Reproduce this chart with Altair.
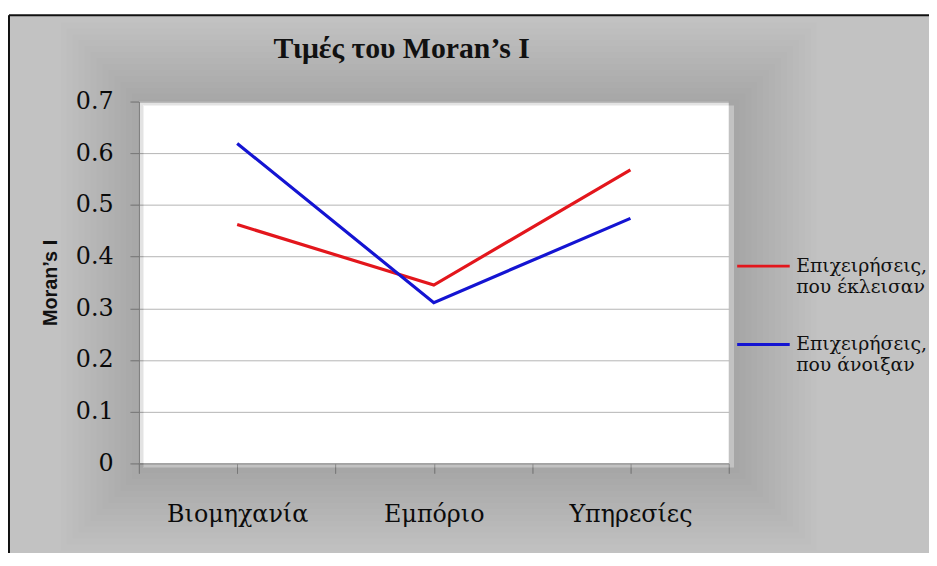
import altair as alt
import pandas as pd

categories = ["Βιομηχανία", "Εμπόριο", "Υπηρεσίες"]
series_names = ["Επιχειρήσεις,\nπου έκλεισαν", "Επιχειρήσεις,\nπου άνοιξαν"]
closed_values = [0.462, 0.345, 0.568]
opened_values = [0.619, 0.311, 0.474]
y_ticks = [0, 0.1, 0.2, 0.3, 0.4, 0.5, 0.6, 0.7]
colors = ["#e3161c", "#1414d2"]
title_text = "Τιμές του Moran’s I"
y_title = "Moran’s I"

rows = []
for name, vals in zip(series_names, [closed_values, opened_values]):
    for i, (c, v) in enumerate(zip(categories, vals)):
        rows.append({"category": c, "idx": i, "series": name, "value": v})
df = pd.DataFrame(rows)

W, H = 595, 365
SERIF = "Liberation Serif"
WIDE_SERIF = "DejaVu Serif"

label_expr = " : ".join(
    f"datum.value == {i} ? '{c}'" for i, c in enumerate(categories)
) + " : ''"

x_enc = alt.X(
    "idx:Q",
    scale=alt.Scale(domain=[-0.5, len(categories) - 0.5], nice=False, zero=False),
    axis=alt.Axis(
        values=[k / 2 for k in range(-1, 2 * len(categories))],
        labelExpr=label_expr,
        grid=False,
        title=None,
        tickSize=10,
        tickColor="#8a8a8a",
        domainColor="#8a8a8a",
        labelFont=WIDE_SERIF,
        labelFontSize=24,
        labelColor="#111111",
        labelPadding=30,
    ),
)

y_enc = alt.Y(
    "value:Q",
    scale=alt.Scale(domain=[0, 0.7], nice=False),
    axis=alt.Axis(
        values=y_ticks,
        format=".1~f",
        grid=True,
        gridColor="#b4b4b4",
        tickSize=9,
        tickColor="#8a8a8a",
        domainColor="#8a8a8a",
        labelFont=WIDE_SERIF,
        labelFontSize=24,
        labelColor="#111111",
        labelPadding=17,
        title=y_title,
        titleFont="Liberation Sans",
        titleFontWeight="bold",
        titleFontSize=20,
        titleColor="#111111",
        titlePadding=15,
    ),
)

lines = alt.Chart(df).mark_line(strokeWidth=3.2).encode(
    x=x_enc,
    y=y_enc,
    color=alt.Color(
        "series:N",
        scale=alt.Scale(domain=series_names, range=colors),
        legend=alt.Legend(
            title=None,
            orient="none",
            legendX=602,
            legendY=138,
            symbolType="stroke",
            symbolSize=2809,
            symbolStrokeWidth=3,
            labelFont=WIDE_SERIF,
            labelFontSize=19,
            labelColor="#111111",
            labelBaseline="middle",
            labelExpr="split(datum.label, '\\n')",
            labelOffset=5,
            rowPadding=20,
            labelLimit=300,
        ),
    ),
    detail="series:N",
)

one = pd.DataFrame({"k": [0]})

# soft shadow bands around the plot area (stroke-only frames)
shadows = []
for d in range(3, 45, 3):
    shadows.append(
        alt.Chart(one).mark_rect(
            filled=False, stroke="#000000", strokeOpacity=0.009, strokeWidth=2 * d
        ).encode(
            x=alt.value(-d + 5), x2=alt.value(W + d + 5),
            y=alt.value(-d + 4), y2=alt.value(H + d + 4),
        )
    )

top_white = alt.Chart(one).mark_rule(color="white", strokeWidth=12).encode(
    x=alt.value(-140), x2=alt.value(W + 300), y=alt.value(-93)
)
top_border = alt.Chart(one).mark_rule(color="#111111", strokeWidth=2).encode(
    x=alt.value(-131), x2=alt.value(W + 300), y=alt.value(-87)
)
left_border = alt.Chart(one).mark_rule(color="#111111", strokeWidth=2).encode(
    x=alt.value(-131), y=alt.value(-87), y2=alt.value(H + 200)
)
title = alt.Chart(one).mark_text(
    text=title_text,
    font=SERIF,
    fontSize=30,
    fontWeight="bold",
    color="#111111",
    align="center",
    baseline="middle",
).encode(x=alt.value(265), y=alt.value(-53))

chart = alt.layer(
    *shadows, top_white, top_border, left_border, title, lines
).properties(
    width=W,
    height=H,
    autosize="none",
    padding={"left": 132, "top": 92, "right": 202, "bottom": 88},
    background="#c2c2c2",
).configure_view(fill="white", stroke=None)

chart.save("out.html", embed_options={"renderer": "svg", "actions": False})
